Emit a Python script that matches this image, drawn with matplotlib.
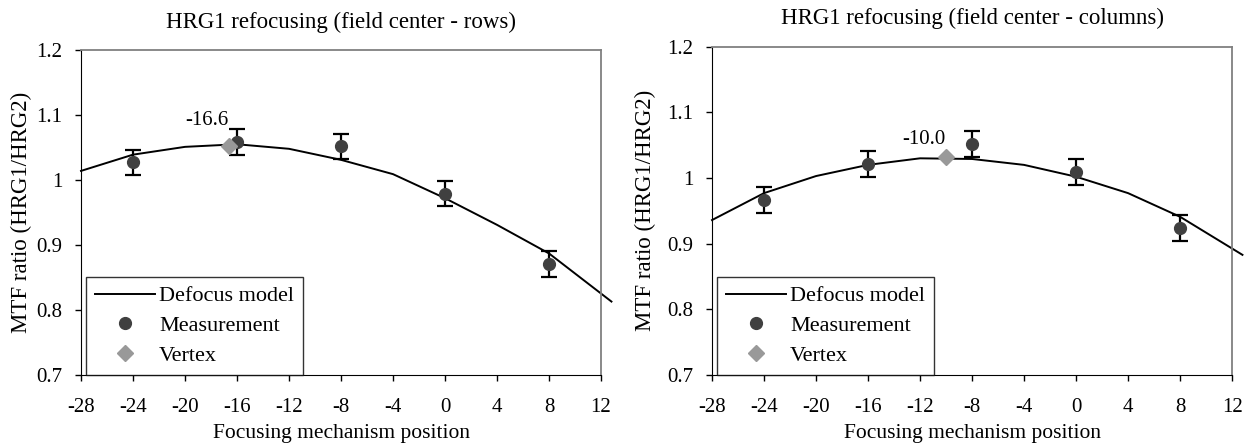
# MTF ratio vs focusing mechanism position, rows and columns
import numpy as np
import matplotlib.pyplot as plt

plt.rcParams['font.family'] = ['Liberation Serif', 'DejaVu Serif']
plt.rcParams['axes.unicode_minus'] = False

# measured points
meas_x = [-24, -16, -8, 0, 8]
rows_y = [1.027, 1.058, 1.052, 0.979, 0.871]
rows_err = [0.019, 0.020, 0.019, 0.019, 0.020]
cols_y = [0.967, 1.021, 1.052, 1.009, 0.924]
cols_err = [0.020, 0.020, 0.020, 0.020, 0.020]

# defocus model curves
model_x = [-28, -24, -20, -16, -12, -8, -4, 0, 4, 8, 12.8]
rows_model = [1.014, 1.039, 1.051, 1.055, 1.048, 1.031, 1.009, 0.972, 0.931, 0.887, 0.813]
cols_model = [0.936, 0.977, 1.003, 1.020, 1.030, 1.029, 1.020, 1.002, 0.977, 0.941, 0.883]

# vertices
rows_vertex = (-16.6, 1.053)
cols_vertex = (-10.0, 1.032)

# title, values, errors, model, vertex, label, axes rect, ylabel pad, label offset (pts)
panels = [
    ("HRG1 refocusing (field center - rows)", rows_y, rows_err, rows_model, rows_vertex, "-16.6",
     [0.0646, 0.1629, 0.4147, 0.7255], 3, 11),
    ("HRG1 refocusing (field center - columns)", cols_y, cols_err, cols_model, cols_vertex, "-10.0",
     [0.5678, 0.1629, 0.4147, 0.7329], 8, 6),
]

fig = plt.figure(figsize=(12.54, 4.48), dpi=100)

for title, my, merr, mod, vtx, vlabel, rect, ylpad, toff in panels:
    ax = fig.add_axes(rect)
    ax.plot(model_x, mod, color='black', lw=1.4, clip_on=False, label='Defocus model', zorder=2)
    ax.errorbar(meas_x, my, yerr=merr, fmt='none', ecolor='black', elinewidth=1.6,
                capsize=5.8, capthick=1.6, zorder=3)
    ax.plot(meas_x, my, 'o', color='#404040', ms=8.5, ls='none', label='Measurement', zorder=4)
    ax.plot([vtx[0]], [vtx[1]], 'D', color='#999999', ms=8, ls='none', label='Vertex', zorder=5)
    ax.annotate(vlabel, (vtx[0] - 1.7, vtx[1]), xytext=(0, toff), textcoords='offset points',
                ha='center', va='bottom', fontsize=15)

    ax.set_xlim(-28, 12)
    ax.set_ylim(0.7, 1.2)
    ax.set_xticks(np.arange(-28, 13, 4))
    ax.set_yticks([0.7, 0.8, 0.9, 1.0, 1.1, 1.2])
    ax.set_yticklabels(['0.7', '0.8', '0.9', '1', '1.1', '1.2'])
    ax.tick_params(labelsize=15, direction='out', length=4.5, width=1)
    ax.tick_params(axis='x', pad=12)
    ax.tick_params(axis='y', pad=9)
    for s in ['top', 'right']:
        ax.spines[s].set_color('#808080')
        ax.spines[s].set_linewidth(1.3)
    for s in ['left', 'bottom']:
        ax.spines[s].set_color('black')
    ax.set_title(title, fontsize=16.5, pad=16)
    ax.set_xlabel('Focusing mechanism position', fontsize=15.5, labelpad=5)
    ax.set_ylabel('MTF ratio (HRG1/HRG2)', fontsize=16.5, labelpad=ylpad)

    leg = ax.legend(loc='lower left', bbox_to_anchor=(0.009, 0.0), fontsize=16, frameon=True,
                    fancybox=False, borderaxespad=0, handlelength=2.7, borderpad=0.4,
                    labelspacing=0.42, handletextpad=0.2)
    leg.get_frame().set_edgecolor('black')
    leg.get_frame().set_linewidth(1)

fig.savefig('out.png', dpi=100)
